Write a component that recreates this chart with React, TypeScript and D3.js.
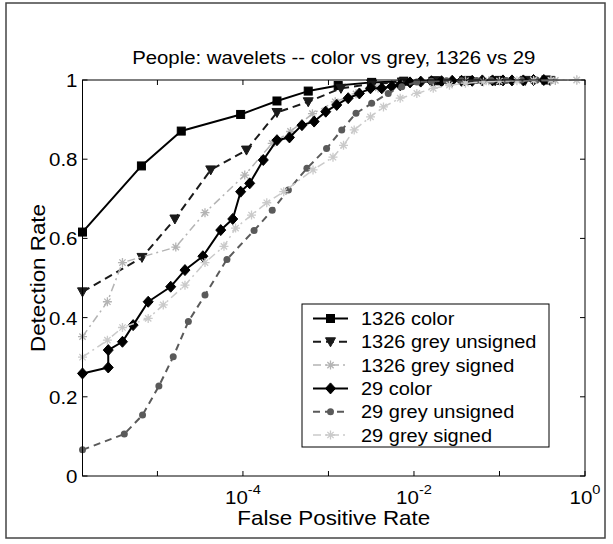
import { useEffect, useRef } from "react";
import * as d3 from "d3";

type Pt = [number, number];

// [false positive rate, detection rate]
const color1326: Pt[] = [
  [1.33e-6, 0.616], [6.5e-6, 0.783], [1.9e-5, 0.871], [9.4e-5, 0.913],
  [2.5e-4, 0.947], [5.8e-4, 0.972], [1.3e-3, 0.986], [3.2e-3, 0.994],
  [7.6e-3, 0.997], [1.8e-2, 0.998], [4.3e-2, 0.999], [0.1, 0.999], [0.35, 1.0],
];

const greyUnsigned1326: Pt[] = [
  [1.33e-6, 0.465], [6.6e-6, 0.552], [1.6e-5, 0.649], [4.2e-5, 0.773],
  [1.1e-4, 0.823], [2.5e-4, 0.918], [5.8e-4, 0.945], [1.4e-3, 0.979],
  [3.2e-3, 0.99], [7.3e-3, 0.995], [1.7e-2, 0.997], [3.9e-2, 0.998],
  [8.9e-2, 0.998], [0.2, 0.999], [0.39, 0.999],
];

const greySigned1326: Pt[] = [
  [1.33e-6, 0.352], [2.6e-6, 0.44], [3.9e-6, 0.539], [1.64e-5, 0.578],
  [3.6e-5, 0.665], [1.05e-4, 0.76], [2.2e-4, 0.84], [3.6e-4, 0.87],
  [6.5e-4, 0.915], [1.2e-3, 0.945], [2.1e-3, 0.965], [3.8e-3, 0.98],
  [6.8e-3, 0.99], [1.2e-2, 0.995], [2.2e-2, 0.997], [4e-2, 0.998],
  [7.5e-2, 0.998], [0.14, 0.999], [0.26, 0.999], [0.45, 0.999], [0.8, 1.0],
];

const color29: Pt[] = [
  [1.33e-6, 0.259], [2.66e-6, 0.274], [2.66e-6, 0.318], [3.9e-6, 0.339],
  [5.2e-6, 0.381], [7.8e-6, 0.44], [1.43e-5, 0.478], [2.1e-5, 0.52],
  [3.4e-5, 0.555], [5.5e-5, 0.621], [7.6e-5, 0.649], [9.4e-5, 0.718],
  [1.2e-4, 0.739], [1.73e-4, 0.798], [2.5e-4, 0.848], [3.5e-4, 0.855],
  [4.9e-4, 0.886], [6.8e-4, 0.895], [9.3e-4, 0.92], [1.25e-3, 0.937],
  [1.7e-3, 0.954], [2.3e-3, 0.966], [3.1e-3, 0.979], [4.2e-3, 0.979],
  [5.5e-3, 0.984], [6.9e-3, 0.987], [9e-3, 0.994], [1.2e-2, 0.996],
  [1.6e-2, 0.997], [2.1e-2, 0.997], [2.8e-2, 0.998], [3.6e-2, 0.998],
  [4.8e-2, 0.998], [6.3e-2, 0.999], [8.3e-2, 0.999], [0.11, 0.999],
  [0.14, 0.999], [0.19, 0.999], [0.25, 1.0], [0.33, 1.0],
];

const greyUnsigned29: Pt[] = [
  [1.33e-6, 0.066], [4.1e-6, 0.106], [6.7e-6, 0.154], [1.04e-5, 0.227],
  [1.53e-5, 0.301], [2.3e-5, 0.39], [3.6e-5, 0.457], [6.5e-5, 0.547],
  [1.35e-4, 0.62], [2.2e-4, 0.671], [3.4e-4, 0.722], [5.6e-4, 0.777],
  [9.5e-4, 0.827], [1.43e-3, 0.874], [2.1e-3, 0.916], [3.2e-3, 0.941],
  [5e-3, 0.966], [7.2e-3, 0.983], [1.08e-2, 0.995], [1.6e-2, 0.997],
  [2.4e-2, 0.998], [3.6e-2, 0.998], [5.4e-2, 0.999], [8e-2, 0.999],
  [0.12, 0.999], [0.18, 1.0], [0.27, 1.0], [0.4, 1.0],
];

const greySigned29: Pt[] = [
  [1.33e-6, 0.3], [2.6e-6, 0.343], [3.9e-6, 0.375], [7.8e-6, 0.398],
  [1.17e-5, 0.432], [2.1e-5, 0.482], [3.6e-5, 0.539], [6e-5, 0.58],
  [8.2e-5, 0.626], [1.26e-4, 0.659], [1.9e-4, 0.69], [3e-4, 0.718],
  [6.6e-4, 0.773], [1.13e-3, 0.805], [1.5e-3, 0.835], [2e-3, 0.874],
  [3.1e-3, 0.907], [4.4e-3, 0.932], [6.9e-3, 0.954], [1.08e-2, 0.966],
  [1.68e-2, 0.979], [2.6e-2, 0.987], [4e-2, 0.992], [6.5e-2, 0.995],
  [0.1, 0.997], [0.16, 0.998], [0.25, 0.999], [0.4, 0.999], [0.8, 1.0],
];

const yTicks = [0, 0.2, 0.4, 0.6, 0.8, 1];
const yTickLabels = ["0", "0.2", "0.4", "0.6", "0.8", "1"];
const xTicks = [1e-5, 1e-4, 1e-3, 1e-2, 1e-1, 1];
const xLabelExps = [-4, -2, 0];

type Marker = "square" | "triangle" | "asterisk" | "diamond" | "dot";

interface Series {
  name: string;
  data: Pt[];
  color: string;
  dash: string | null;
  width: number;
  marker: Marker;
}

const series: Series[] = [
  { name: "1326 color", data: color1326, color: "#000", dash: null, width: 2, marker: "square" },
  { name: "1326 grey unsigned", data: greyUnsigned1326, color: "#1a1a1a", dash: "8,5", width: 2, marker: "triangle" },
  { name: "1326 grey signed", data: greySigned1326, color: "#b4b4b4", dash: "8,4,2,4", width: 1.5, marker: "asterisk" },
  { name: "29 color", data: color29, color: "#000", dash: null, width: 2, marker: "diamond" },
  { name: "29 grey unsigned", data: greyUnsigned29, color: "#5a5a5a", dash: "7,5", width: 2, marker: "dot" },
  { name: "29 grey signed", data: greySigned29, color: "#cacaca", dash: "8,4,2,4", width: 1.5, marker: "asterisk" },
];

const FONT = "'Liberation Sans', Arial, Helvetica, sans-serif";

type G = d3.Selection<SVGGElement, unknown, null, undefined>;

// text stretched a little along its baseline, like the scanned figure
function addText(
  parent: G,
  x: number,
  y: number,
  str: string,
  size: number,
  anchor: string,
  sx: number,
  rot = 0
) {
  return parent
    .append("text")
    .attr("transform", `translate(${x},${y}) rotate(${rot}) scale(${sx},1)`)
    .attr("text-anchor", anchor)
    .attr("font-family", FONT)
    .attr("font-size", size)
    .text(str);
}

function drawMarker(g: G, kind: Marker, x: number, y: number, color: string) {
  if (kind === "square") {
    g.append("rect").attr("x", x - 4).attr("y", y - 4).attr("width", 8).attr("height", 8)
      .attr("fill", color).attr("stroke", color);
  } else if (kind === "triangle") {
    g.append("path").attr("d", `M${x - 5},${y - 4}L${x + 5},${y - 4}L${x},${y + 5}Z`)
      .attr("fill", color).attr("stroke", color);
  } else if (kind === "diamond") {
    g.append("path").attr("d", `M${x},${y - 5.5}L${x + 5},${y}L${x},${y + 5.5}L${x - 5},${y}Z`)
      .attr("fill", color).attr("stroke", color);
  } else if (kind === "dot") {
    g.append("circle").attr("cx", x).attr("cy", y).attr("r", 3.5).attr("fill", color);
  } else {
    const r = 4.5;
    const d = r * 0.7;
    g.append("path")
      .attr("d", `M${x - r},${y}L${x + r},${y}M${x},${y - r}L${x},${y + r}M${x - d},${y - d}L${x + d},${y + d}M${x - d},${y + d}L${x + d},${y - d}`)
      .attr("stroke", color).attr("stroke-width", 1.3).attr("fill", "none");
  }
}

export default function App() {
  const svgRef = useRef<SVGSVGElement>(null);

  useEffect(() => {
    if (!svgRef.current) return;
    const svg = d3.select(svgRef.current);
    svg.selectAll("*").remove();

    const left = 82.5, right = 585, top = 80, bottom = 476;

    const xScale = d3.scaleLog().domain([1.33e-6, 1]).range([left, right]);
    const yScale = d3.scaleLinear().domain([0, 1]).range([bottom, top]);

    // outer frame
    svg.append("rect").attr("x", 6).attr("y", 3).attr("width", 599).attr("height", 535)
      .attr("fill", "#fff").attr("stroke", "#444").attr("stroke-width", 1.5);

    const g = svg.append("g") as unknown as G;

    // title
    addText(g, (left + right) / 2, 64, "People: wavelets -- color vs grey, 1326 vs 29", 18.5, "middle", 1.1);

    // ticks (inward, on both sides)
    yTicks.forEach((t, i) => {
      const y = yScale(t);
      g.append("line").attr("x1", left).attr("x2", left + 5).attr("y1", y).attr("y2", y).attr("stroke", "#000");
      g.append("line").attr("x1", right).attr("x2", right - 5).attr("y1", y).attr("y2", y).attr("stroke", "#000");
      addText(g, left - 5, y + 7, yTickLabels[i], 19, "end", 1.08);
    });
    xTicks.forEach((t) => {
      const x = xScale(t);
      g.append("line").attr("x1", x).attr("x2", x).attr("y1", bottom).attr("y2", bottom - 5).attr("stroke", "#000");
      g.append("line").attr("x1", x).attr("x2", x).attr("y1", top).attr("y2", top + 5).attr("stroke", "#000");
    });
    xLabelExps.forEach((e) => {
      const x = xScale(Math.pow(10, e));
      const txt = g.append("text")
        .attr("transform", `translate(${x},504) scale(1.08,1)`)
        .attr("text-anchor", "middle")
        .attr("font-family", FONT).attr("font-size", 19);
      txt.append("tspan").text("10");
      txt.append("tspan").attr("dy", -10).attr("font-size", 13.5).text(String(e));
    });

    // axis labels
    addText(g, (left + right) / 2, 525, "False Positive Rate", 20, "middle", 1.12);
    addText(g, 45, (top + bottom) / 2, "Detection Rate", 20, "middle", 1.12, -90);

    // series
    const line = d3.line<Pt>().x((d) => xScale(d[0])).y((d) => yScale(d[1]));
    series.forEach((s) => {
      const sg = g.append("g") as unknown as G;
      sg.append("path").attr("d", line(s.data) ?? "").attr("fill", "none")
        .attr("stroke", s.color).attr("stroke-width", s.width)
        .attr("stroke-dasharray", s.dash ?? null).attr("stroke-linejoin", "round");
      s.data.forEach((d) => drawMarker(sg, s.marker, xScale(d[0]), yScale(d[1]), s.color));
    });

    // plot box
    g.append("rect").attr("x", left).attr("y", top).attr("width", right - left).attr("height", bottom - top)
      .attr("fill", "none").attr("stroke", "#000").attr("stroke-width", 1);

    // legend
    const lx = 302, ly = 304, lw = 247, lh = 143, rowH = 23.3;
    const lg = g.append("g") as unknown as G;
    lg.append("rect").attr("x", lx).attr("y", ly).attr("width", lw).attr("height", lh)
      .attr("fill", "#fff").attr("stroke", "#000").attr("stroke-width", 1);
    series.forEach((s, i) => {
      const cy = ly + 14.5 + i * rowH;
      lg.append("line").attr("x1", 313).attr("x2", 348).attr("y1", cy).attr("y2", cy)
        .attr("stroke", s.color).attr("stroke-width", s.width).attr("stroke-dasharray", s.dash ?? null);
      drawMarker(lg, s.marker, 330.5, cy, s.color);
      addText(lg, 361, cy + 6.5, s.name, 18.5, "start", 1.08);
    });
  }, []);

  return (
    <svg
      ref={svgRef}
      width={613}
      height={544}
      style={{ position: "absolute", left: 0, top: 0, display: "block", background: "#fff" }}
    />
  );
}
